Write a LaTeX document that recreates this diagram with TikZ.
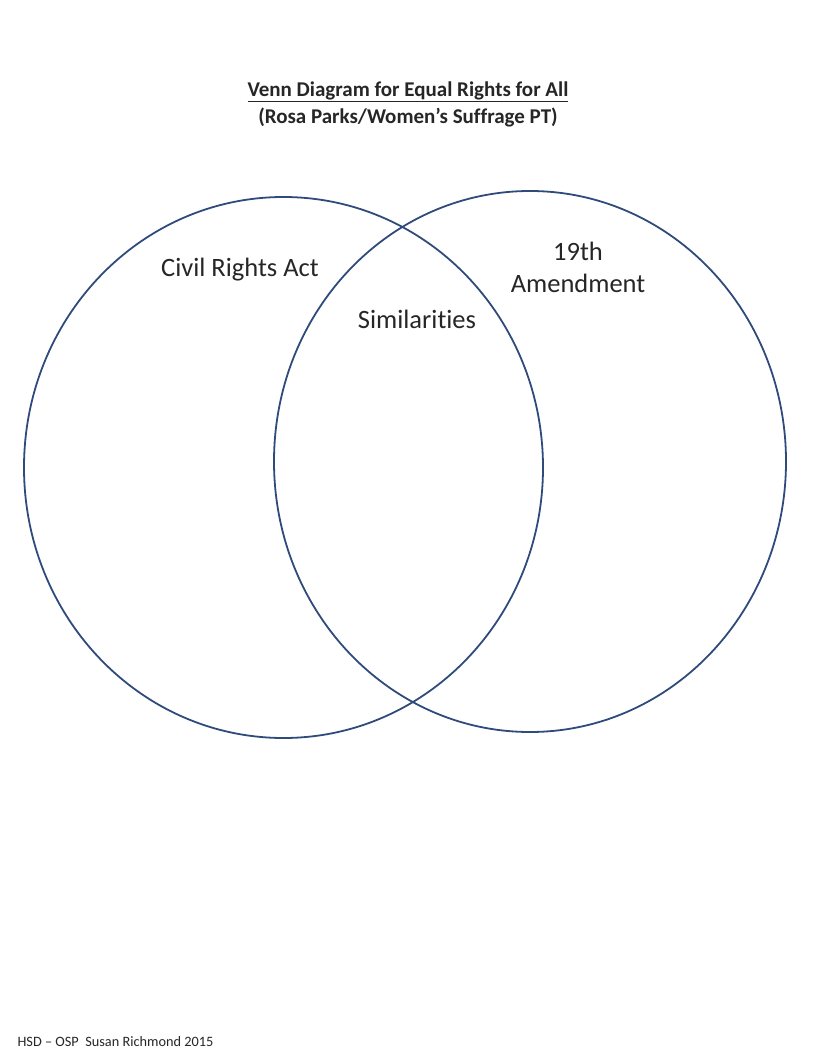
\documentclass[tikz,border=0pt]{standalone}
\usepackage{fontspec}
\setmainfont{Carlito}[Ligatures=NoCommon]
\begin{document}
\begin{tikzpicture}[x=1pt,y=-1pt,
  venn/.style={draw=vennblue,line width=1.8pt},
  lbl/.style={font=\fontsize{26.5}{32}\selectfont,align=center,text=black!85},
  ttl/.style={font=\fontsize{21}{26}\selectfont\bfseries,text=black!85}]
\definecolor{vennblue}{HTML}{2F4B7C}
\useasboundingbox (0,0) rectangle (816,1056);
\draw[venn] (283.5,467.5) ellipse [x radius=259.5, y radius=270.5];
\draw[venn] (530,461.5) ellipse [x radius=256, y radius=270.5];
\node[ttl] (t1) at (408,92) {\underline{Venn Diagram for Equal Rights for All}};
\node[ttl] (t2) at (408,117) {(Rosa Parks/Women’s Suffrage PT)};
\node[lbl] (c) at (240,270) {Civil Rights Act};
\node[lbl] (s) at (417,319) {Similarities};
\node[lbl] (a) at (578,267) {19th\\Amendment};
\node[font=\fontsize{14.3}{16}\selectfont,anchor=west,text=black!85] (f) at (14,1042) {HSD – OSP\ \ Susan Richmond 2015};
\end{tikzpicture}
\end{document}
